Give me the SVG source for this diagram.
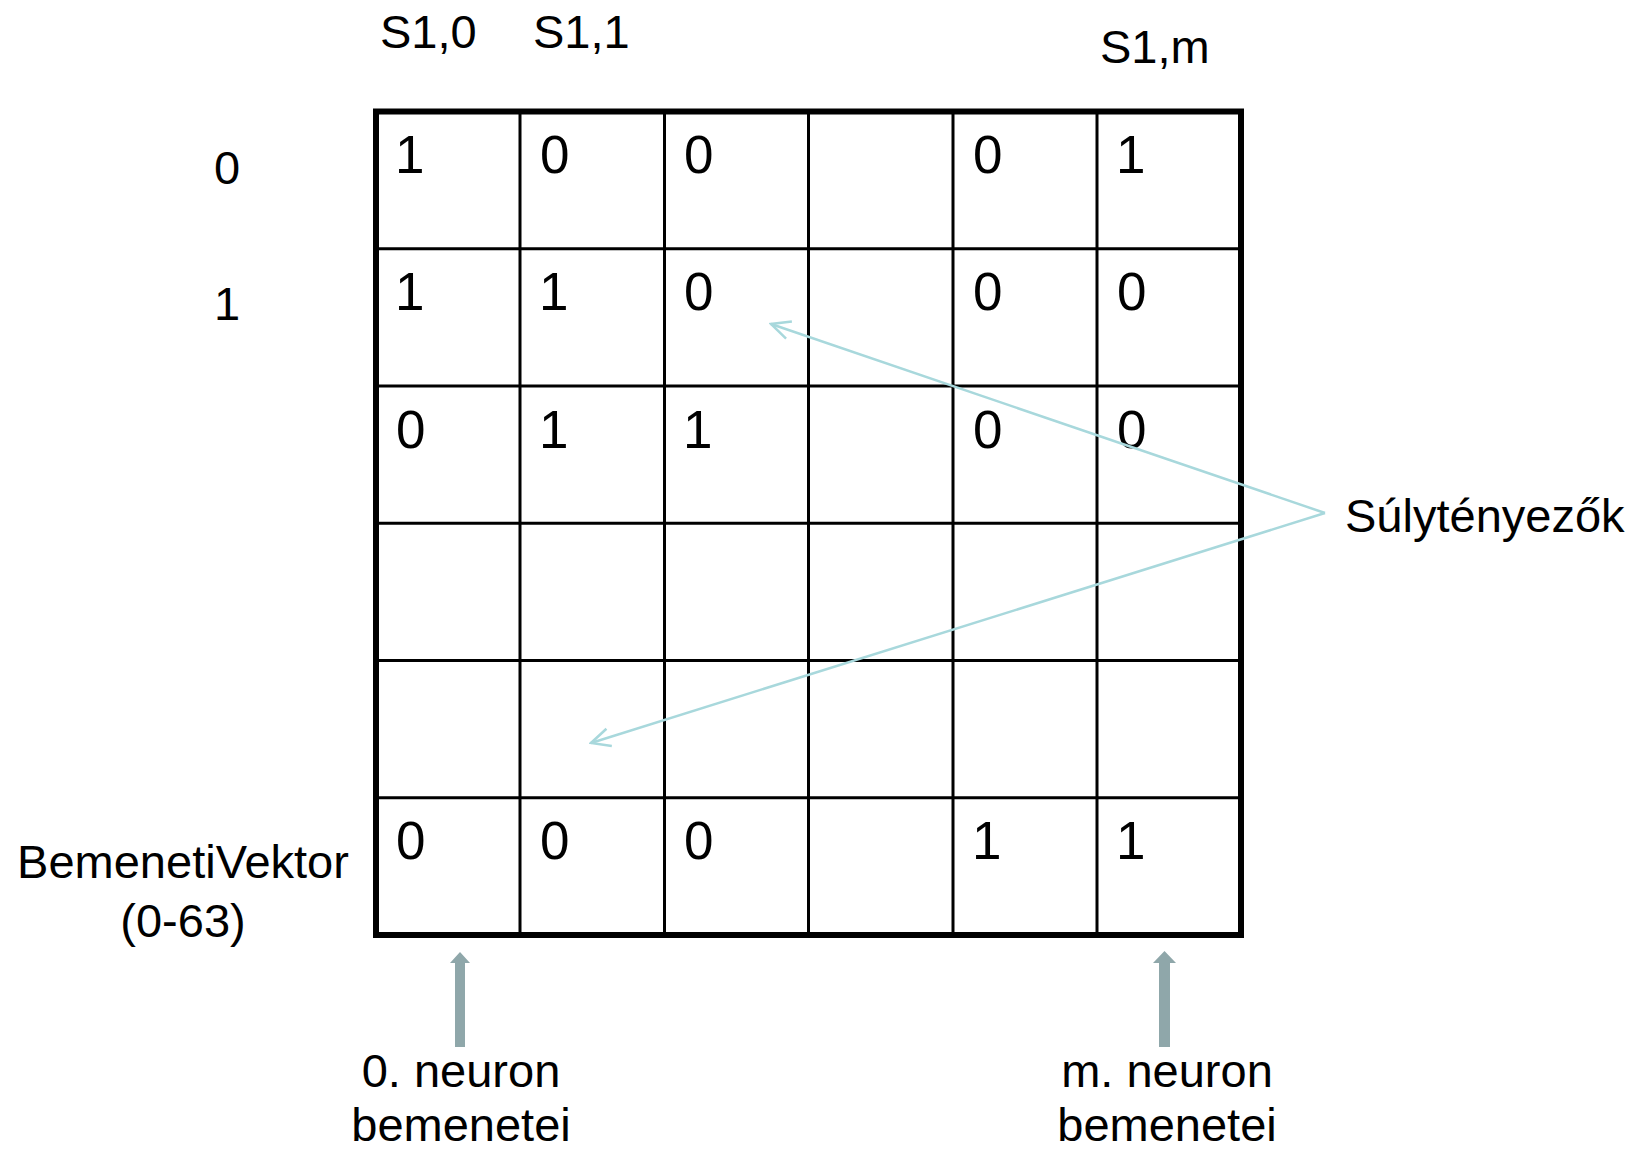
<svg xmlns="http://www.w3.org/2000/svg" width="1648" height="1149" viewBox="0 0 1648 1149">
<style>
text{font-family:"Liberation Sans",Arial,sans-serif;fill:#000}
.lbl{font-size:47px}
.d{font-size:53px}
.mid{text-anchor:middle}
.grid{stroke:#000;stroke-width:3;fill:none}
.border{stroke:#000;stroke-width:6;fill:none}
.pt{stroke:#A8D8DC;stroke-width:2.5;fill:none}
.up{fill:#8FA7AA}
</style>
<defs>
<marker id="open" viewBox="0 0 24 24" refX="22" refY="12" markerWidth="24" markerHeight="24" markerUnits="userSpaceOnUse" orient="auto">
<path d="M3,3 L22,12 L3,21" fill="none" stroke="#A8D8DC" stroke-width="2.5"/>
</marker>
</defs>
<g id="matrix">
<g class="grid">
<line x1="520" y1="111.5" x2="520" y2="935"/>
<line x1="664.5" y1="111.5" x2="664.5" y2="935"/>
<line x1="808.5" y1="111.5" x2="808.5" y2="935"/>
<line x1="953" y1="111.5" x2="953" y2="935"/>
<line x1="1097" y1="111.5" x2="1097" y2="935"/>
<line x1="376" y1="248.75" x2="1241" y2="248.75"/>
<line x1="376" y1="386" x2="1241" y2="386"/>
<line x1="376" y1="523.25" x2="1241" y2="523.25"/>
<line x1="376" y1="660.5" x2="1241" y2="660.5"/>
<line x1="376" y1="797.75" x2="1241" y2="797.75"/>
</g>
<rect class="border" x="376" y="111.5" width="865" height="823.5"/>
<g class="d">
<text x="395" y="173">1</text><text x="540" y="173">0</text><text x="684" y="173">0</text><text x="973" y="173">0</text><text x="1116" y="173">1</text>
<text x="395" y="310">1</text><text x="539" y="310">1</text><text x="684" y="310">0</text><text x="973" y="310">0</text><text x="1117" y="310">0</text>
<text x="396" y="448">0</text><text x="539" y="448">1</text><text x="683" y="448">1</text><text x="973" y="448">0</text><text x="1117" y="448">0</text>
<text x="396" y="859">0</text><text x="540" y="859">0</text><text x="684" y="859">0</text><text x="972" y="859">1</text><text x="1116" y="859">1</text>
</g>
</g>
<g id="col-labels" class="lbl">
<text x="380" y="48">S1,0</text>
<text x="533" y="48">S1,1</text>
<text x="1100" y="63">S1,m</text>
</g>
<g id="row-labels" class="lbl">
<text x="214" y="184">0</text>
<text x="214" y="320">1</text>
</g>
<g id="input-vector" class="lbl mid">
<text x="183" y="878">BemenetiVektor</text>
<text x="183" y="937">(0-63)</text>
</g>
<g id="weights-label" class="lbl">
<text x="1345" y="532">Súlytényezők</text>
</g>
<g id="neuron0" class="lbl mid">
<text x="461" y="1087">0. neuron</text>
<text x="461" y="1141">bemenetei</text>
</g>
<g id="neuronm" class="lbl mid">
<text x="1167" y="1087">m. neuron</text>
<text x="1167" y="1141">bemenetei</text>
</g>
<g id="connectors">
<path class="pt" d="M1325,513 L771,324" marker-end="url(#open)"/>
<path class="pt" d="M1325,513 L591,743" marker-end="url(#open)"/>
<path class="up" d="M455,1047 L465,1047 L465,963 L470,963 L460,952 L450,963 L455,963 Z"/>
<path class="up" d="M1159,1047 L1170,1047 L1170,963 L1176,963 L1164.5,951 L1153,963 L1159,963 Z"/>
</g>
</svg>
